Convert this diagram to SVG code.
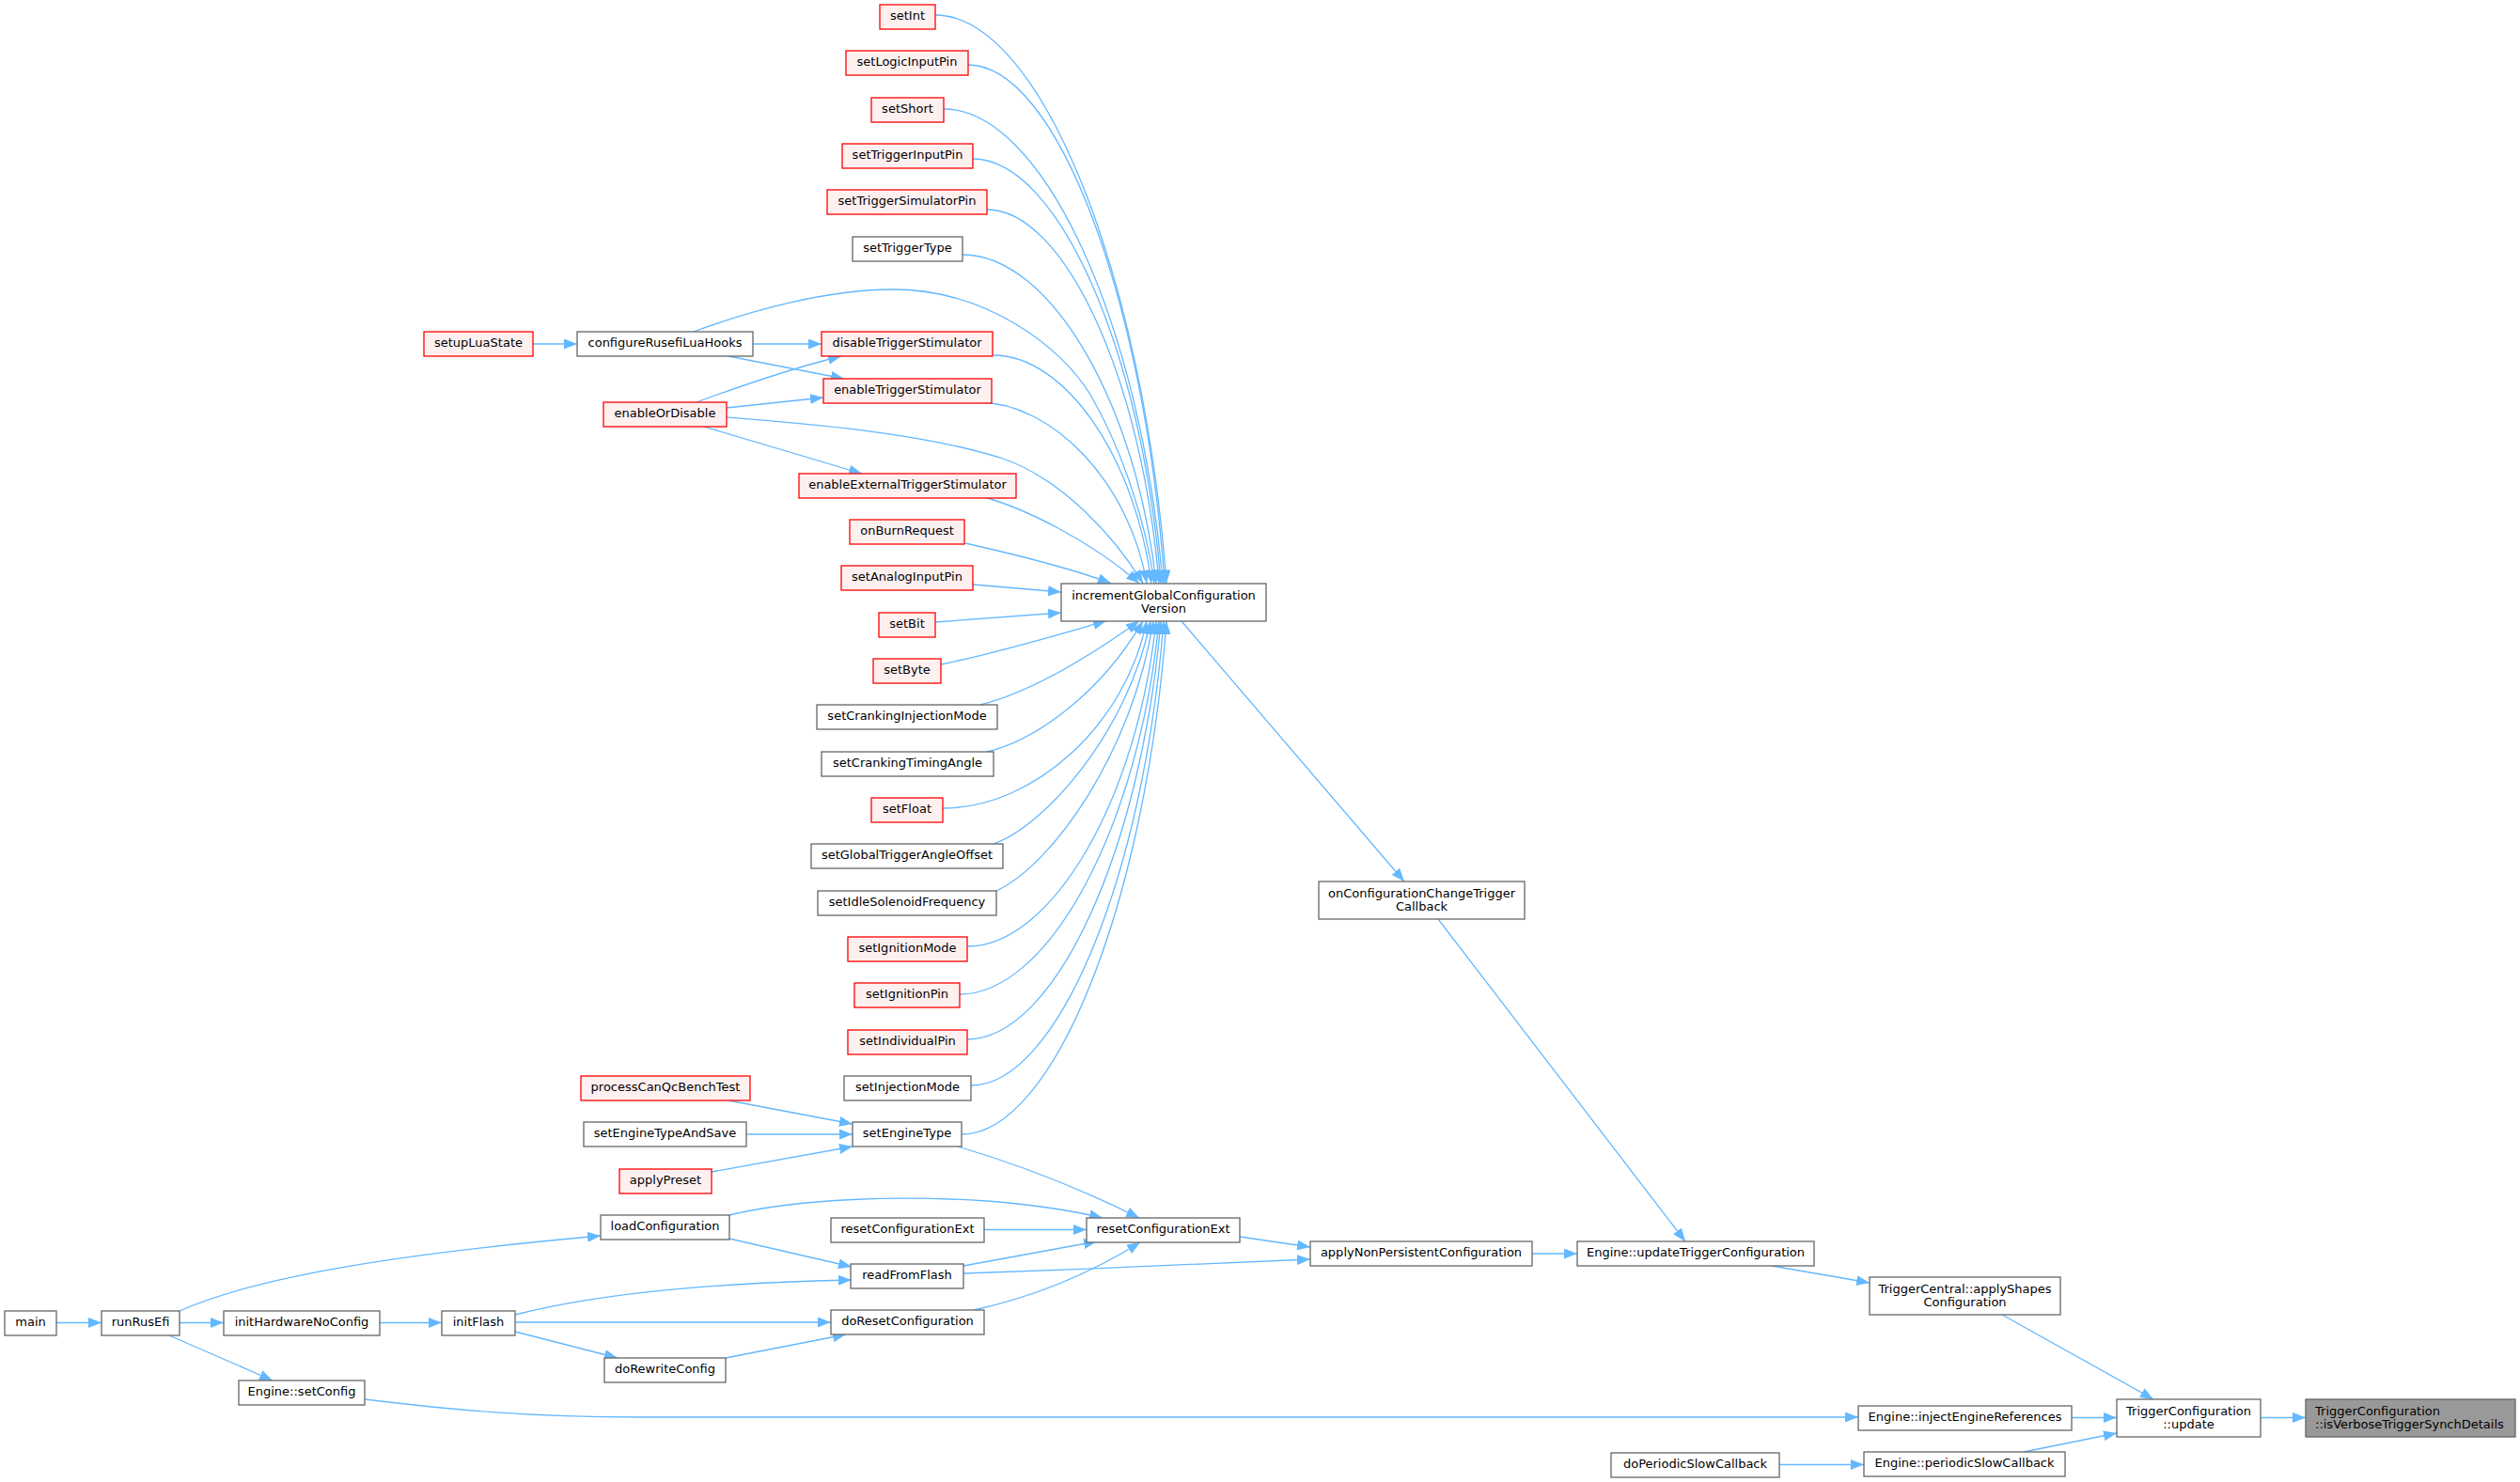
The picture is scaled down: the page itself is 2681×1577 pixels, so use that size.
<svg xmlns="http://www.w3.org/2000/svg" width="2681" height="1577" viewBox="0 0 2681 1577">
<style>
.n rect{fill:#fff;stroke:#666;stroke-width:1.3}
.r rect{fill:#fff0f0;stroke:#f00;stroke-width:1.3}
.root rect{fill:#999;stroke:#666;stroke-width:1.3}
text{font-family:"DejaVu Sans",sans-serif;font-size:13px;text-anchor:middle;fill:#000}
.l{text-anchor:start}
#edges path{fill:none;stroke:#63b8ff;stroke-width:1.3;marker-end:url(#a)}
</style>
<defs>
<marker id="a" markerUnits="userSpaceOnUse" markerWidth="14" markerHeight="11" refX="14" refY="5.5" orient="auto"><path d="M0,0 L14,5.5 L0,11 z" fill="#63b8ff" stroke="none"/></marker>
</defs>
<rect width="2681" height="1577" fill="#fff"/>
<g id="edges">
<path d="M995,16 C1106,16 1216,288 1241,620.7"/>
<path d="M1030,69 C1124,69 1218,317 1239,620.7"/>
<path d="M1004,116 C1109,116 1214,343 1237,620.7"/>
<path d="M1035,169 C1125,169 1215,372 1235,620.7"/>
<path d="M1050,223 C1132,223 1215,402 1233,620.7"/>
<path d="M1024,271 C1117,271 1209,428 1230,620.7"/>
<path d="M738,353 C800,330 880,308 950,308 C1050,308 1130,370 1160,420 C1195,480 1220,560 1228,620.7"/>
<path d="M1057,378 C1133,378 1208,487 1225,620.7"/>
<path d="M1040,428 C1121,428 1202,515 1220,620.7"/>
<path d="M773,444 C850,450 980,460 1067,488 C1130,510 1185,570 1216,620.7"/>
<path d="M1047,529 C1090,541 1160,575 1212,620.7"/>
<path d="M1027,578 C1080,590 1140,605 1182,620.7"/>
<path d="M1035,622 L1129,630"/>
<path d="M995,662 L1129,652"/>
<path d="M1001,707 C1060,695 1120,677 1177,660.7"/>
<path d="M1043,750 C1090,738 1150,705 1212,660.7"/>
<path d="M1050,800 C1100,788 1170,740 1216,660.7"/>
<path d="M1003,860 C1101,860 1198,770 1220,660.7"/>
<path d="M1057,898 C1110,880 1200,780 1224,660.7"/>
<path d="M1060,948 C1120,920 1205,800 1227,660.7"/>
<path d="M1029,1007 C1119,1007 1210,851 1230,660.7"/>
<path d="M1021,1058 C1116,1058 1212,879 1233,660.7"/>
<path d="M1029,1106 C1122,1106 1214,906 1235,660.7"/>
<path d="M1033,1155 C1125,1155 1217,933 1238,660.7"/>
<path d="M1023,1207 C1121,1207 1219,961 1241,660.7"/>
<path d="M567,366 L614,366"/>
<path d="M801,366 L874,366"/>
<path d="M775,379 L898,403"/>
<path d="M741,428 C790,410 850,390 895,379"/>
<path d="M773,434 L876,423"/>
<path d="M749,454 L917,504"/>
<path d="M775,1171 L907,1196"/>
<path d="M794,1207 L907,1207"/>
<path d="M757,1247 L907,1220"/>
<path d="M1019,1220 C1080,1238 1150,1265 1212,1296"/>
<path d="M776,1293 C850,1275 960,1272 1050,1278 C1100,1282 1140,1288 1173,1296"/>
<path d="M776,1318 L906,1348"/>
<path d="M1025,1347 L1167,1321"/>
<path d="M1025,1355 C1150,1351 1300,1344 1394,1340"/>
<path d="M1047,1308.5 L1156,1308.5"/>
<path d="M1036,1394 C1100,1380 1160,1355 1213,1322"/>
<path d="M1319,1316 L1394,1327"/>
<path d="M548,1399 C650,1373 780,1365 906,1362"/>
<path d="M548,1407 L884,1407"/>
<path d="M548,1417 L657,1445"/>
<path d="M772,1445 L900,1420"/>
<path d="M60,1407.5 L108,1407.5"/>
<path d="M191,1407.5 L238,1407.5"/>
<path d="M404,1407.5 L470,1407.5"/>
<path d="M191,1395 C280,1355 450,1332 639,1315"/>
<path d="M180,1421 L290,1469"/>
<path d="M388,1489 C480,1500 560,1508 680,1508 L1977,1508"/>
<path d="M1257,661 L1494,938"/>
<path d="M1530,978 L1793,1321"/>
<path d="M1630,1334 L1678,1334"/>
<path d="M1885,1347 L1989,1365"/>
<path d="M2130,1399 L2291,1489"/>
<path d="M2204,1508.5 L2252,1508.5"/>
<path d="M2153,1545 L2252,1525"/>
<path d="M1893,1558.5 L1983,1558.5"/>
<path d="M2405,1508.5 L2453,1508.5"/>
</g>
<g id="setInt" class="r"><rect x="936" y="5" width="59" height="26"/><text x="965.5" y="21">setInt</text></g>
<g id="setLogicInputPin" class="r"><rect x="900" y="54" width="130" height="26"/><text x="965" y="70">setLogicInputPin</text></g>
<g id="setShort" class="r"><rect x="927" y="104" width="77" height="26"/><text x="965.5" y="120">setShort</text></g>
<g id="setTriggerInputPin" class="r"><rect x="896" y="153" width="139" height="26"/><text x="965.5" y="169">setTriggerInputPin</text></g>
<g id="setTriggerSimulatorPin" class="r"><rect x="880" y="202" width="170" height="26"/><text x="965" y="218">setTriggerSimulatorPin</text></g>
<g id="setTriggerType" class="n"><rect x="907" y="252" width="117" height="26"/><text x="965.5" y="268">setTriggerType</text></g>
<g id="disableTriggerStimulator" class="r"><rect x="874" y="353" width="182" height="26"/><text x="965" y="369">disableTriggerStimulator</text></g>
<g id="enableTriggerStimulator" class="r"><rect x="876" y="403" width="179" height="26"/><text x="965.5" y="419">enableTriggerStimulator</text></g>
<g id="enableExternalTriggerStimulator" class="r"><rect x="850" y="504" width="231" height="26"/><text x="965.5" y="520">enableExternalTriggerStimulator</text></g>
<g id="onBurnRequest" class="r"><rect x="904" y="553" width="122" height="26"/><text x="965" y="569">onBurnRequest</text></g>
<g id="setAnalogInputPin" class="r"><rect x="895" y="602" width="140" height="26"/><text x="965" y="618">setAnalogInputPin</text></g>
<g id="setBit" class="r"><rect x="935" y="652" width="60" height="26"/><text x="965" y="668">setBit</text></g>
<g id="setByte" class="r"><rect x="929" y="701" width="72" height="26"/><text x="965" y="717">setByte</text></g>
<g id="setCrankingInjectionMode" class="n"><rect x="869" y="750" width="192" height="26"/><text x="965" y="766">setCrankingInjectionMode</text></g>
<g id="setCrankingTimingAngle" class="n"><rect x="874" y="800" width="183" height="26"/><text x="965.5" y="816">setCrankingTimingAngle</text></g>
<g id="setFloat" class="r"><rect x="927" y="849" width="76" height="26"/><text x="965" y="865">setFloat</text></g>
<g id="setGlobalTriggerAngleOffset" class="n"><rect x="863" y="898" width="204" height="26"/><text x="965" y="914">setGlobalTriggerAngleOffset</text></g>
<g id="setIdleSolenoidFrequency" class="n"><rect x="870" y="948" width="190" height="26"/><text x="965" y="964">setIdleSolenoidFrequency</text></g>
<g id="setIgnitionMode" class="r"><rect x="902" y="997" width="127" height="26"/><text x="965.5" y="1013">setIgnitionMode</text></g>
<g id="setIgnitionPin" class="r"><rect x="909" y="1046" width="112" height="26"/><text x="965" y="1062">setIgnitionPin</text></g>
<g id="setIndividualPin" class="r"><rect x="902" y="1096" width="127" height="26"/><text x="965.5" y="1112">setIndividualPin</text></g>
<g id="setInjectionMode" class="n"><rect x="898" y="1145" width="135" height="26"/><text x="965.5" y="1161">setInjectionMode</text></g>
<g id="setEngineType" class="n"><rect x="907" y="1194" width="116" height="26"/><text x="965" y="1210">setEngineType</text></g>
<g id="resetConfigurationExt_l" class="n"><rect x="884" y="1296" width="163" height="26"/><text x="965.5" y="1312">resetConfigurationExt</text></g>
<g id="readFromFlash" class="n"><rect x="905" y="1345" width="120" height="26"/><text x="965" y="1361">readFromFlash</text></g>
<g id="doResetConfiguration" class="n"><rect x="884" y="1394" width="163" height="26"/><text x="965.5" y="1410">doResetConfiguration</text></g>
<g id="setupLuaState" class="r"><rect x="451" y="353" width="116" height="26"/><text x="509" y="369">setupLuaState</text></g>
<g id="configureRusefiLuaHooks" class="n"><rect x="614" y="353" width="187" height="26"/><text x="707.5" y="369">configureRusefiLuaHooks</text></g>
<g id="enableOrDisable" class="r"><rect x="642" y="428" width="131" height="26"/><text x="707.5" y="444">enableOrDisable</text></g>
<g id="processCanQcBenchTest" class="r"><rect x="618" y="1145" width="180" height="26"/><text x="708" y="1161">processCanQcBenchTest</text></g>
<g id="setEngineTypeAndSave" class="n"><rect x="621" y="1194" width="173" height="26"/><text x="707.5" y="1210">setEngineTypeAndSave</text></g>
<g id="applyPreset" class="r"><rect x="659" y="1244" width="98" height="26"/><text x="708" y="1260">applyPreset</text></g>
<g id="loadConfiguration" class="n"><rect x="639" y="1293" width="137" height="26"/><text x="707.5" y="1309">loadConfiguration</text></g>
<g id="doRewriteConfig" class="n"><rect x="643" y="1445" width="129" height="26"/><text x="707.5" y="1461">doRewriteConfig</text></g>
<g id="main" class="n"><rect x="5" y="1395" width="55" height="26"/><text x="32.5" y="1411">main</text></g>
<g id="runRusEfi" class="n"><rect x="108" y="1395" width="83" height="26"/><text x="149.5" y="1411">runRusEfi</text></g>
<g id="initHardwareNoConfig" class="n"><rect x="238" y="1395" width="166" height="26"/><text x="321" y="1411">initHardwareNoConfig</text></g>
<g id="initFlash" class="n"><rect x="470" y="1395" width="78" height="26"/><text x="509" y="1411">initFlash</text></g>
<g id="Engine_setConfig" class="n"><rect x="254" y="1469" width="134" height="26"/><text x="321" y="1485">Engine::setConfig</text></g>
<g id="incrementGlobalConfigurationVersion" class="n"><rect x="1129" y="621" width="218" height="40"/><text x="1238" y="637.5">incrementGlobalConfiguration</text><text x="1238" y="651.5">Version</text></g>
<g id="resetConfigurationExt_r" class="n"><rect x="1156" y="1296" width="163" height="26"/><text x="1237.5" y="1312">resetConfigurationExt</text></g>
<g id="onConfigurationChangeTriggerCallback" class="n"><rect x="1403" y="938" width="219" height="40"/><text x="1512.5" y="954.5">onConfigurationChangeTrigger</text><text x="1512.5" y="968.5">Callback</text></g>
<g id="applyNonPersistentConfiguration" class="n"><rect x="1394" y="1321" width="236" height="26"/><text x="1512" y="1337">applyNonPersistentConfiguration</text></g>
<g id="Engine_updateTriggerConfiguration" class="n"><rect x="1678" y="1321" width="252" height="26"/><text x="1804" y="1337">Engine::updateTriggerConfiguration</text></g>
<g id="TriggerCentral_applyShapesConfiguration" class="n"><rect x="1989" y="1359" width="203" height="40"/><text x="2090.5" y="1375.5">TriggerCentral::applyShapes</text><text x="2090.5" y="1389.5">Configuration</text></g>
<g id="Engine_injectEngineReferences" class="n"><rect x="1977" y="1496" width="227" height="26"/><text x="2090.5" y="1512">Engine::injectEngineReferences</text></g>
<g id="Engine_periodicSlowCallback" class="n"><rect x="1983" y="1545" width="214" height="26"/><text x="2090" y="1561">Engine::periodicSlowCallback</text></g>
<g id="doPeriodicSlowCallback" class="n"><rect x="1714" y="1546" width="179" height="26"/><text x="1803.5" y="1562">doPeriodicSlowCallback</text></g>
<g id="TriggerConfiguration_update" class="n"><rect x="2252" y="1489" width="153" height="40"/><text x="2328.5" y="1505.5">TriggerConfiguration</text><text x="2328.5" y="1519.5">::update</text></g>
<g id="TriggerConfiguration_isVerboseTriggerSynchDetails" class="root"><rect x="2453" y="1489" width="223" height="40"/><text class="l" x="2463" y="1505.5">TriggerConfiguration</text><text class="l" x="2463" y="1519.5">::isVerboseTriggerSynchDetails</text></g>
</svg>
